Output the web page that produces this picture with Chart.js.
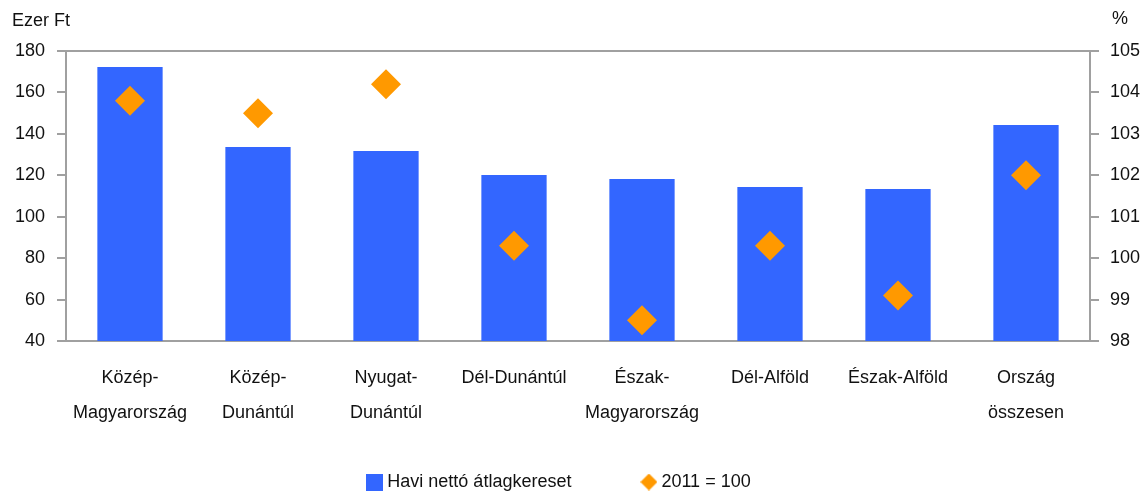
<!DOCTYPE html>
<html>
<head>
<meta charset="utf-8">
<script src="https://cdn.jsdelivr.net/npm/chart.js@4/dist/chart.umd.min.js"></script>
<style>
  html, body { margin: 0; padding: 0; background: #fff; }
  #wrap { width: 1142px; height: 493px; }
</style>
</head>
<body>
<div id="wrap"><canvas id="myChart"></canvas></div>
<script>
// regions (x axis)
const regions = [
  ['Közép-', 'Magyarország'],
  ['Közép-', 'Dunántúl'],
  ['Nyugat-', 'Dunántúl'],
  'Dél-Dunántúl',
  ['Észak-', 'Magyarország'],
  'Dél-Alföld',
  'Észak-Alföld',
  ['Ország', 'összesen']
];
// monthly net average earnings, thousand HUF (left axis)
const kereset = [172.3, 133.6, 131.7, 120.1, 118.2, 114.3, 113.4, 144.3];
// previous year = 100, % (right axis)
const index2011 = [103.8, 103.5, 104.2, 100.3, 98.5, 100.3, 99.1, 102.0];

const leftTicks = { min: 40, max: 180, step: 20 };
const rightTicks = { min: 98, max: 105, step: 1 };

const axisGray = '#a0a0a0';
const barBlue = '#3366ff';
const orange = '#ff9900';

Chart.defaults.font.family = "'Liberation Sans', Arial, sans-serif";
Chart.defaults.font.size = 18;
Chart.defaults.color = '#111';

// small legend icons
function makeIcon(kind, color) {
  const c = document.createElement('canvas');
  c.width = 17; c.height = 17;
  const g = c.getContext('2d');
  g.fillStyle = color;
  if (kind === 'square') {
    g.fillRect(0, 0, 17, 17);
  } else {
    g.beginPath();
    g.moveTo(8.5, 0); g.lineTo(17, 8.5); g.lineTo(8.5, 17); g.lineTo(0, 8.5);
    g.closePath();
    g.fill();
  }
  return c;
}
const icons = [makeIcon('square', barBlue), makeIcon('diamond', orange)];

// top frame line + unit labels
const extras = {
  id: 'extras',
  afterLayout(chart) {
    // legend is tall because of the wide item gap; pull it back up and a bit left
    const lg = chart.legend;
    lg.top -= 42;
    lg.bottom -= 42;
    lg.left -= 10;
    lg.right -= 10;
  },
  afterDraw(chart) {
    const { ctx, chartArea } = chart;
    ctx.save();
    ctx.strokeStyle = axisGray;
    ctx.lineWidth = 2;
    ctx.beginPath();
    ctx.moveTo(chartArea.left, chartArea.top);
    ctx.lineTo(chartArea.right, chartArea.top);
    ctx.stroke();
    ctx.fillStyle = '#111';
    ctx.font = "18px 'Liberation Sans', Arial, sans-serif";
    ctx.textBaseline = 'middle';
    ctx.textAlign = 'left';
    ctx.fillText('Ezer Ft', 12, 21);
    ctx.fillText('%', 1112, 19);
    ctx.restore();
  }
};

var ctx = document.getElementById('myChart').getContext('2d');
var myChart = new Chart(ctx, {
  type: 'bar',
  data: {
    labels: regions,
    datasets: [{
      label: 'Havi nettó átlagkereset',
      data: kereset,
      backgroundColor: barBlue,
      categoryPercentage: 1,
      barPercentage: 0.51,
      yAxisID: 'y',
      order: 2
    }, {
      type: 'line',
      label: '2011 = 100',
      data: index2011,
      showLine: false,
      pointStyle: 'rectRot',
      pointRadius: 15,
      pointHoverRadius: 15,
      pointBorderWidth: 0,
      backgroundColor: orange,
      borderColor: orange,
      yAxisID: 'y1',
      order: 1
    }]
  },
  options: {
    responsive: true,
    maintainAspectRatio: false,
    animation: false,
    layout: { padding: { top: 51, left: 0, right: 0, bottom: -50 } },
    plugins: {
      tooltip: { enabled: false },
      legend: {
        position: 'bottom',
        labels: {
          usePointStyle: true,
          pointStyleWidth: 7,
          padding: 74,
          color: '#111',
          font: { size: 18 },
          sort: (a, b) => a.datasetIndex - b.datasetIndex,
          generateLabels(chart) {
            const items = Chart.defaults.plugins.legend.labels.generateLabels(chart);
            items.forEach(it => { it.pointStyle = icons[it.datasetIndex]; });
            return items;
          }
        }
      }
    },
    scales: {
      x: {
        afterFit: (s) => { s.height = 100; },
        grid: { display: false },
        border: { display: true, color: axisGray, width: 2 },
        ticks: { maxRotation: 0, autoSkip: false, padding: 11, font: { size: 18, lineHeight: 1.95 } }
      },
      y: {
        position: 'left',
        min: leftTicks.min,
        max: leftTicks.max,
        afterFit: (s) => { s.width = 66; },
        grid: { drawOnChartArea: false, tickLength: 9, color: axisGray, lineWidth: 2 },
        border: { display: true, color: axisGray, width: 2 },
        ticks: { stepSize: leftTicks.step, padding: 12 }
      },
      y1: {
        position: 'right',
        min: rightTicks.min,
        max: rightTicks.max,
        afterFit: (s) => { s.width = 52; },
        grid: { drawOnChartArea: false, tickLength: 9, color: axisGray, lineWidth: 2 },
        border: { display: true, color: axisGray, width: 2 },
        ticks: { stepSize: rightTicks.step, padding: 11 }
      }
    }
  },
  plugins: [extras]
});
</script>
</body>
</html>
